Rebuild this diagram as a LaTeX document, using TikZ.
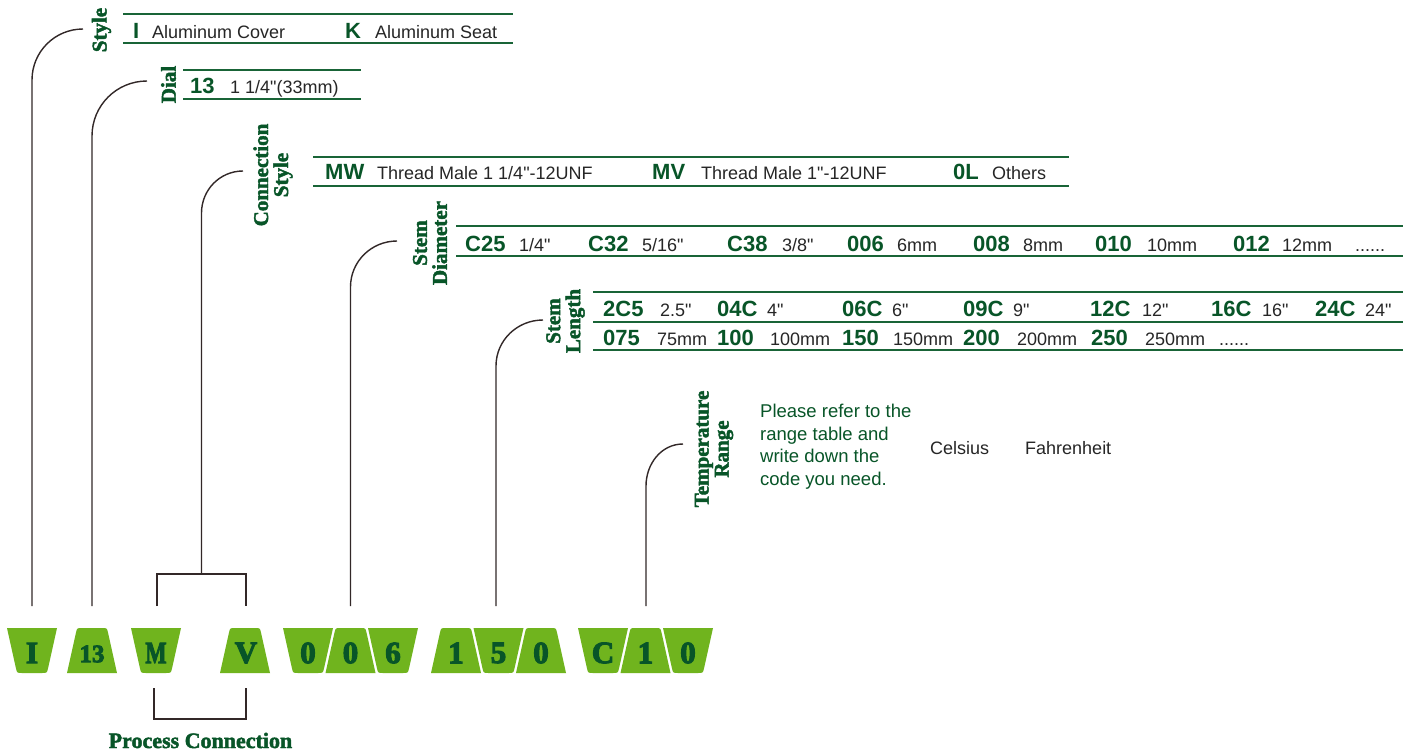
\documentclass[tikz,border=0pt]{standalone}
\usepackage{graphicx}
\usepackage{fontspec}
\setmainfont{Liberation Sans}
\newfontfamily\sansf{Liberation Sans}
\newfontfamily\serff{Liberation Serif}[BoldFeatures={FakeBold=3.5}]
\newfontfamily\lblf{Liberation Serif}[BoldFeatures={FakeBold=2}]
\usetikzlibrary{calc}
\definecolor{boxgreen}{RGB}{112,180,30}
\definecolor{dkgreen}{RGB}{8,85,40}
\definecolor{linegreen}{RGB}{25,100,55}
\definecolor{conncol}{RGB}{50,40,40}
\newcommand{\gdnbox}[1]{\fill[boxgreen,shift={(#1,628)}] (0,0) -- (50,0) -- (41.11,40) .. controls (40,45) .. (35,45) -- (15,45) .. controls (10,45) .. (8.89,40) -- cycle;}
\newcommand{\gupbox}[1]{\fill[boxgreen,shift={(#1,628)}] (0,45) -- (8.89,5) .. controls (10,0) .. (15,0) -- (35,0) .. controls (40,0) .. (41.11,5) -- (50,45) -- cycle;}
\begin{document}
\begin{tikzpicture}[x=1pt,y=-1pt,
  conn/.style={draw=conncol, line width=1.4pt},
  rule/.style={draw=linegreen, line width=1.6pt},
  code/.style={font=\sansf\bfseries\fontsize{22}{22}\selectfont, text=dkgreen, anchor=base west, inner sep=0pt},
  desc/.style={font=\sansf\fontsize{18}{18}\selectfont, text=black!85, anchor=base west, inner sep=0pt},
  lbl/.style={font=\lblf\bfseries\fontsize{21}{20}\selectfont, text=dkgreen, rotate=90, align=center, inner sep=0pt},
  boxtxt/.style={font=\serff\bfseries\fontsize{31}{31}\selectfont, text=dkgreen, inner sep=0pt},
]
\useasboundingbox (0,0) rectangle (1411,753);
\fill[white] (0,0) rectangle (1411,753);

% ---- code boxes ----
\gdnbox{7} \gupbox{67} \gdnbox{131} \gupbox{220}
\gdnbox{283} \gupbox{325.5} \gdnbox{368}
\gupbox{431} \gdnbox{473.5} \gupbox{516}
\gdnbox{578} \gupbox{620.5} \gdnbox{663}
\node[boxtxt] (bI) at (32,653) {I};
\node[boxtxt,font=\serff\bfseries\fontsize{25}{25}\selectfont] (b13) at (92,654) {13};
\node[boxtxt] (bM) at (156,653) {\scalebox{0.72}[1]{M}};
\node[boxtxt] (bV) at (246,653) {V};
\node[boxtxt] (bA) at (308,653) {0};
\node[boxtxt] (bB) at (350.5,653) {0};
\node[boxtxt] (bC) at (393,653) {6};
\node[boxtxt] (bD) at (456,653) {1};
\node[boxtxt] (bE) at (498.5,653) {5};
\node[boxtxt] (bF) at (541,653) {0};
\node[boxtxt] (bG) at (603,653) {C};
\node[boxtxt] (bH) at (645.5,653) {1};
\node[boxtxt] (bJ) at (688,653) {0};

% ---- labels ----
\node[lbl] (lStyle) at (101.5,30) {Style};
\node[lbl] (lDial) at (168.5,84.5) {Dial};
\node[lbl] (lConn) at (273,175) {Connection\\Style};
\node[lbl] (lDia) at (430,243) {Stem\\Diameter};
\node[lbl] (lLen) at (565.5,321) {Stem\\Length};
\node[lbl] (lTemp) at (714,449) {Temperature\\Range};
\node[font=\lblf\bfseries\fontsize{22}{22}\selectfont, text=dkgreen, anchor=base, inner sep=0pt] (lProc) at (200.5,748) {Process Connection};

% ---- rules ----
\draw[rule] (123,14) -- (513,14);
\draw[rule] (123,43) -- (513,43);
\draw[rule] (183,70) -- (361,70);
\draw[rule] (183,99) -- (361,99);
\draw[rule] (313,157) -- (1069,157);
\draw[rule] (313,186) -- (1069,186);
\draw[rule] (456,226) -- (1403,226);
\draw[rule] (456,256) -- (1403,256);
\draw[rule] (593,292) -- (1403,292);
\draw[rule,line width=1.2pt] (593,322) -- (1403,322);
\draw[rule] (593,350) -- (1403,350);

% ---- table texts ----
\node[code] (s1) at (133,38) {I};
\node[desc] (s2) at (152,38) {Aluminum Cover};
\node[code] (s3) at (345,38) {K};
\node[desc] (s4) at (375,38) {Aluminum Seat};

\node[code] (d1) at (190,93) {13};
\node[desc] (d2) at (230,93) {1 1/4"(33mm)};

\node[code] (c1) at (325,179) {MW};
\node[desc] (c2) at (377,179) {Thread Male 1 1/4"-12UNF};
\node[code] (c3) at (652,179) {MV};
\node[desc] (c4) at (701,179) {Thread Male 1"-12UNF};
\node[code] (c5) at (953,179) {0L};
\node[desc] (c6) at (992,179) {Others};

\node[code] (e1) at (465,251) {C25};
\node[desc] (e2) at (519,251) {1/4"};
\node[code] (e3) at (588,251) {C32};
\node[desc] (e4) at (642,251) {5/16"};
\node[code] (e5) at (727,251) {C38};
\node[desc] (e6) at (782,251) {3/8"};
\node[code] (e7) at (847,251) {006};
\node[desc] (e8) at (897,251) {6mm};
\node[code] (e9) at (973,251) {008};
\node[desc] (e10) at (1023,251) {8mm};
\node[code] (e11) at (1095,251) {010};
\node[desc] (e12) at (1147,251) {10mm};
\node[code] (e13) at (1233,251) {012};
\node[desc] (e14) at (1282,251) {12mm};
\node[desc] (e15) at (1355,251) {......};

\node[code] (f1) at (603,316) {2C5};
\node[desc] (f2) at (660,316) {2.5"};
\node[code] (f3) at (717,316) {04C};
\node[desc] (f4) at (767,316) {4"};
\node[code] (f5) at (842,316) {06C};
\node[desc] (f6) at (892,316) {6"};
\node[code] (f7) at (963,316) {09C};
\node[desc] (f8) at (1013,316) {9"};
\node[code] (f9) at (1090,316) {12C};
\node[desc] (f10) at (1142,316) {12"};
\node[code] (f11) at (1211,316) {16C};
\node[desc] (f12) at (1262,316) {16"};
\node[code] (f13) at (1315,316) {24C};
\node[desc] (f14) at (1365,316) {24"};

\node[code] (g1) at (603,345) {075};
\node[desc] (g2) at (657,345) {75mm};
\node[code] (g3) at (717,345) {100};
\node[desc] (g4) at (770,345) {100mm};
\node[code] (g5) at (842,345) {150};
\node[desc] (g6) at (893,345) {150mm};
\node[code] (g7) at (963,345) {200};
\node[desc] (g8) at (1017,345) {200mm};
\node[code] (g9) at (1091,345) {250};
\node[desc] (g10) at (1145,345) {250mm};
\node[desc] (g11) at (1219,345) {......};

% ---- temperature note ----
\node[font=\sansf\fontsize{18.5}{22.5}\selectfont, text=dkgreen, align=left, anchor=north west, inner sep=0pt] (tNote) at (760,404) {Please refer to the\\range table and\\write down the\\code you need.};
\node[desc] (tCel) at (930,454) {Celsius};
\node[desc] (tFah) at (1025,454) {Fahrenheit};

% ---- connectors ----
\coordinate (aStyle) at (32,606);  \coordinate (kStyle) at (83,29);
\coordinate (aDial) at (92,606);   \coordinate (kDial) at (147,81);
\coordinate (aM) at (157,606);     \coordinate (aV) at (246,606);
\coordinate (jConn) at (201.5,574); \coordinate (kConn) at (243,171);
\coordinate (aDia) at (350.5,606); \coordinate (kDia) at (397,241);
\coordinate (aLen) at (496,606);   \coordinate (kLen) at (543,320);
\coordinate (aTemp) at (646,606);  \coordinate (kTemp) at (683,444);
\coordinate (pM) at (154,688);     \coordinate (pV) at (246,688);

\draw[conn] (aStyle) -- ($(aStyle |- kStyle)+(0,51)$) to[out=90,in=180] (kStyle);
\draw[conn] (aDial) -- ($(aDial |- kDial)+(0,55)$) to[out=90,in=180] (kDial);
\draw[conn] (aM) |- (jConn) -| (aV);
\draw[conn] (jConn) -- ($(jConn |- kConn)+(0,42)$) to[out=90,in=180] (kConn);
\draw[conn] (aDia) -- ($(aDia |- kDia)+(0,46)$) to[out=90,in=180] (kDia);
\draw[conn] (aLen) -- ($(aLen |- kLen)+(0,46)$) to[out=90,in=180] (kLen);
\draw[conn] (aTemp) -- ($(aTemp |- kTemp)+(0,42)$) to[out=90,in=180] (kTemp);
\draw[conn] (pM) -- ++(0,31) -| (pV);
\end{tikzpicture}
\end{document}
